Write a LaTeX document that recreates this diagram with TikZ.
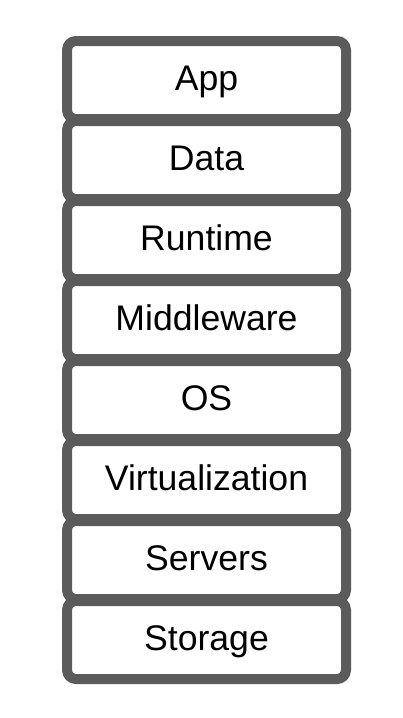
\documentclass[tikz,border=0pt]{standalone}
\usepackage{fontspec}
\setmainfont{Liberation Sans}
\definecolor{layergray}{HTML}{5B5B5B}
\tikzset{
  layerbox/.style={draw=layergray, line width=10pt, rounded corners=9pt, fill=white},
  layertext/.style={anchor=base, font=\fontsize{35.6}{40}\selectfont, text=black, inner sep=0pt}
}
\begin{document}
\begin{tikzpicture}[x=1pt,y=-1pt]
\useasboundingbox (0,0) rectangle (402,718);
\foreach \i/\t/\n in {0/App/app,1/Data/data,2/Runtime/runtime,3/Middleware/middleware,4/OS/os,5/Virtualization/virt,6/Servers/servers,7/Storage/storage}{
  \pgfmathsetmacro{\top}{41+80*\i}
  \pgfmathsetmacro{\bot}{\top+78}
  \pgfmathsetmacro{\mid}{\top+39+10.3}
  \draw[layerbox] (67,\top) rectangle (346,\bot);
  \node[layertext] (\n) at (206.5,\mid) {\t};
}
\end{tikzpicture}
\end{document}
